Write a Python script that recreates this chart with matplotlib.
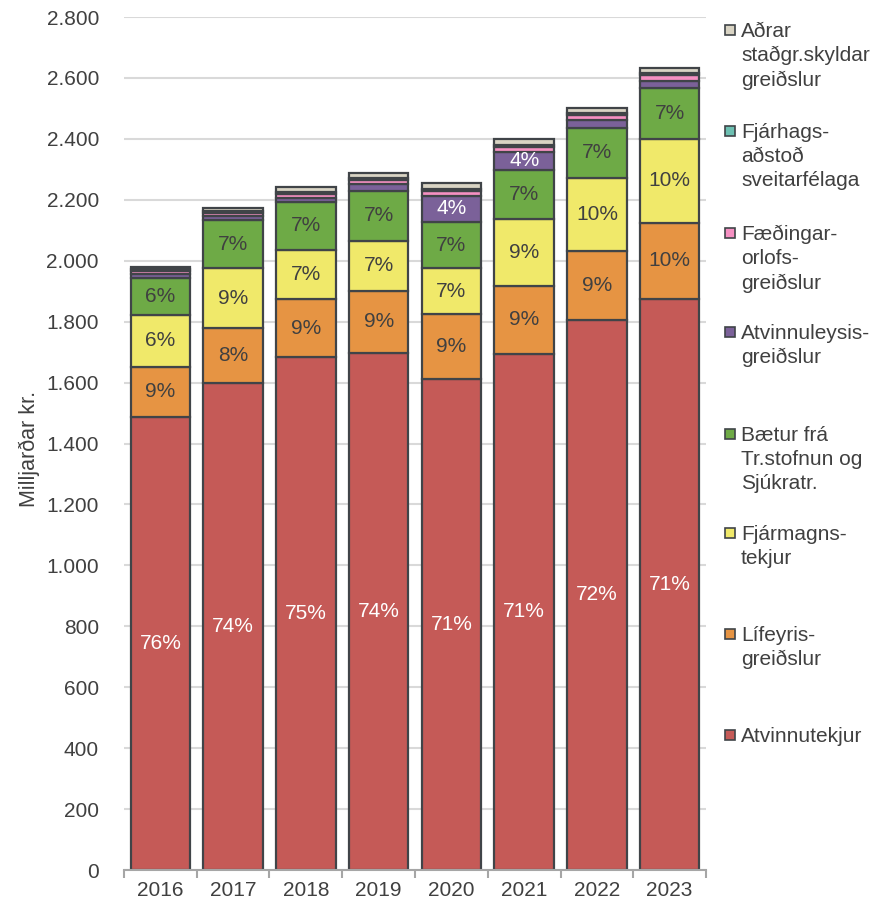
import matplotlib
matplotlib.use("Agg")
import matplotlib.pyplot as plt
from matplotlib.patches import Rectangle
from matplotlib.ticker import FuncFormatter
import numpy as np

plt.rcParams['font.family'] = ['Liberation Sans', 'DejaVu Sans']

years = ['2016', '2017', '2018', '2019', '2020', '2021', '2022', '2023']

atvinnutekjur   = [1488, 1600, 1685, 1698, 1611, 1694, 1806, 1874]
lifeyris        = [164, 178, 188, 204, 213, 223, 227, 251]
fjarmagns       = [170, 197, 162, 163, 151, 219, 238, 274]
baetur          = [120, 159, 159, 165, 153, 162, 166, 167]
atvinnuleysis   = [14, 12, 13, 22, 85, 60, 25, 25]
faedingar       = [11, 12, 13, 14, 15, 16, 17, 18]
fjarhags        = [5, 5, 5, 5, 6, 6, 6, 6]
adrar           = [9, 10, 16, 18, 20, 19, 18, 17]

lbl_atvinnutekjur = ['76%', '74%', '75%', '74%', '71%', '71%', '72%', '71%']
lbl_lifeyris      = ['9%', '8%', '9%', '9%', '9%', '9%', '9%', '10%']
lbl_fjarmagns     = ['6%', '9%', '7%', '7%', '7%', '9%', '10%', '10%']
lbl_baetur        = ['6%', '7%', '7%', '7%', '7%', '7%', '7%', '7%']
lbl_atvinnuleysis = ['', '', '', '', '4%', '4%', '', '']

series = [
    ('Atvinnutekjur', atvinnutekjur, '#C55A57', lbl_atvinnutekjur, 'white'),
    ('Lífeyris-\ngreiðslur', lifeyris, '#E69443', lbl_lifeyris, '#404040'),
    ('Fjármagns-\ntekjur', fjarmagns, '#F0E96A', lbl_fjarmagns, '#404040'),
    ('Bætur frá\nTr.stofnun og\nSjúkratr.', baetur, '#6EAA46', lbl_baetur, '#404040'),
    ('Atvinnuleysis-\ngreiðslur', atvinnuleysis, '#7B6199', lbl_atvinnuleysis, 'white'),
    ('Fæðingar-\norlofs-\ngreiðslur', faedingar, '#F590C2', None, None),
    ('Fjárhags-\naðstoð\nsveitarfélaga', fjarhags, '#6DC0B2', None, None),
    ('Aðrar\nstaðgr.skyldar\ngreiðslur', adrar, '#D9D4C4', None, None),
]

fig = plt.figure(figsize=(8.9, 9.06), dpi=100)
ax = fig.add_axes([0.1393, 0.0397, 0.654, 0.9415])

x = np.arange(len(years))
bottom = np.zeros(len(years))
edge = '#404448'
for name, vals, color, labels, tcol in series:
    vals = np.array(vals, dtype=float)
    ax.bar(x, vals, width=0.82, bottom=bottom, color=color,
           edgecolor=edge, linewidth=1.6, zorder=3)
    if labels is not None:
        for xi, b, v, l in zip(x, bottom, vals, labels):
            if l:
                ax.text(xi, b + v / 2, l, ha='center', va='center',
                        color=tcol, fontsize=15, zorder=4)
    bottom = bottom + vals

ax.set_xlim(-0.5, len(years) - 0.5)
ax.set_ylim(0, 2800)
ax.set_yticks(np.arange(0, 2801, 200))
ax.yaxis.set_major_formatter(FuncFormatter(lambda v, p: f"{int(v):,}".replace(',', '.')))
ax.grid(axis='y', color='#D9D9D9', linewidth=1.5, zorder=0)
ax.set_axisbelow(True)
for s in ['top', 'right', 'left']:
    ax.spines[s].set_visible(False)
ax.spines['bottom'].set_color('#A6A6A6')
ax.spines['bottom'].set_linewidth(1.5)
ax.spines['bottom'].set_zorder(5)

ax.set_xticks(x)
ax.set_xticklabels(years)
ax.set_xticks(np.arange(-0.5, len(years), 1), minor=True)
ax.tick_params(axis='x', which='major', length=0, pad=8, labelsize=15, labelcolor='#404040')
ax.tick_params(axis='x', which='minor', length=6, width=1.5, color='#A6A6A6', direction='out')
ax.tick_params(axis='y', length=0, labelsize=15, labelcolor='#404040', pad=18)
ax.set_ylabel('Milljarðar kr.', fontsize=15.5, color='#404040')
ax.yaxis.set_label_coords(-0.144, 0.494)

# legend (manual, top to bottom, reverse series order)
leg_y_px = [30, 131, 233, 332, 434, 533, 634, 735]
W, H = 890, 906
for (name, vals, color, labels, tcol), ypx in zip(series[::-1], leg_y_px):
    sq = 10
    fig.add_artist(Rectangle((725 / W, 1 - (ypx + sq / 2) / H), sq / W, sq / H,
                             transform=fig.transFigure, facecolor=color,
                             edgecolor=edge, linewidth=1.2))
    fig.text(741 / W, 1 - (ypx - 8) / H, name, ha='left', va='top',
             fontsize=15, color='#404040', linespacing=1.34)

fig.savefig('out.png', dpi=100)
